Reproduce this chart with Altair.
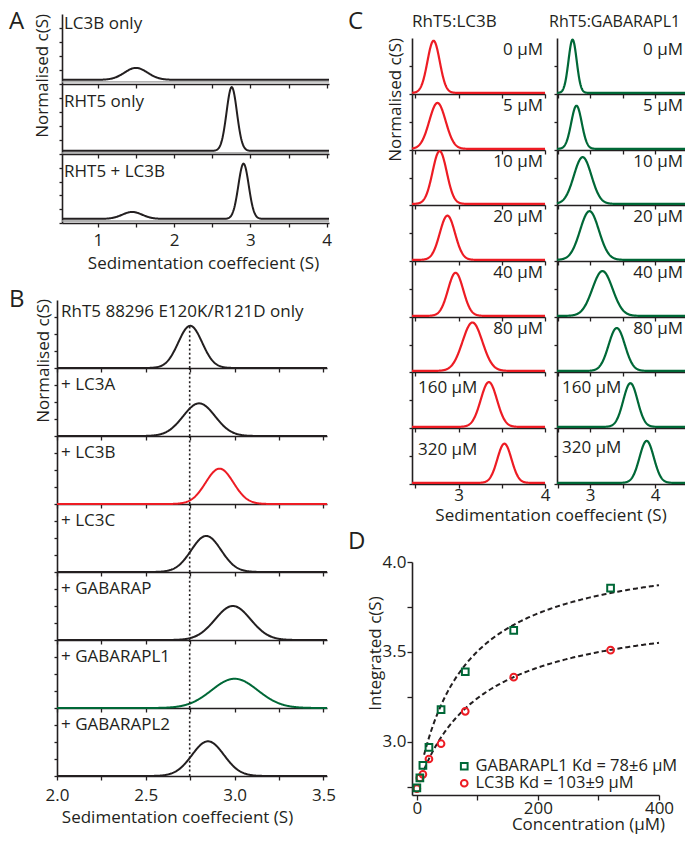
import altair as alt
import numpy as np
import pandas as pd

FONT = "Open Sans"
INK = "#231f20"
RED = "#ed1c24"
GREEN = "#006837"
FS = 17

# ---------------- Panel A ----------------
a_names = ["LC3B only", "RHT5 only", "RHT5 + LC3B"]
a_centre = [[1.50], [2.755], [1.45, 2.91]]
a_height = [[0.17], [0.91], [0.10, 0.80]]
a_sigma = [[0.15], [0.068], [0.13, 0.068]]
a_base = [0.06, 0.045, 0.06]
a_xdomain = [0.53, 4.03]
a_xticks = [1, 1.5, 2, 2.5, 3, 3.5, 4]

# ---------------- Panel B ----------------
b_names = ["RhT5 88296 E120K/R121D only", "+ LC3A", "+ LC3B", "+ LC3C",
           "+ GABARAP", "+ GABARAPL1", "+ GABARAPL2"]
b_colour = [INK, INK, RED, INK, INK, GREEN, INK]
b_centre = [2.75, 2.80, 2.915, 2.84, 2.99, 3.00, 2.85]
b_height = [0.62, 0.48, 0.52, 0.53, 0.50, 0.43, 0.51]
b_sigma = [0.067, 0.09, 0.078, 0.084, 0.10, 0.13, 0.09]
b_free_peak = 2.747
b_xdomain = [2.0, 3.52]
b_xticks = [2.0, 2.25, 2.5, 2.75, 3.0, 3.25, 3.5]

# ---------------- Panel C ----------------
c_labels = ["0 µM", "5 µM", "10 µM", "20 µM", "40 µM", "80 µM", "160 µM", "320 µM"]
c_lc3b_centre = [2.71, 2.755, 2.78, 2.87, 2.965, 3.16, 3.35, 3.53]
c_lc3b_height = [0.93, 0.82, 0.96, 0.79, 0.77, 0.88, 0.80, 0.70]
c_lc3b_sigma = [0.071, 0.095, 0.082, 0.088, 0.088, 0.115, 0.094, 0.082]
c_gab_centre = [2.73, 2.79, 2.885, 2.99, 3.19, 3.41, 3.62, 3.87]
c_gab_height = [0.95, 0.77, 0.85, 0.87, 0.80, 0.78, 0.78, 0.75]
c_gab_sigma = [0.063, 0.081, 0.135, 0.145, 0.155, 0.125, 0.11, 0.11]
c_left_xdomain = [2.46, 4.0]
c_right_xdomain = [2.49, 4.46]
c_left_xticks = [2.5, 3, 3.5, 4]
c_right_xticks = [2.5, 3, 3.5, 4]

# ---------------- Panel D ----------------
d_conc = [0, 5, 10, 20, 40, 80, 160, 320]
d_gab = [2.745, 2.80, 2.87, 2.97, 3.18, 3.39, 3.62, 3.855]
d_lc3b = [2.74, 2.80, 2.82, 2.905, 2.99, 3.17, 3.36, 3.51]
d_labels = ["GABARAPL1 Kd = 78±6 µM", "LC3B Kd = 103±9 µM"]
d_kd = [78, 103]
d_s0 = [2.75, 2.74]
d_amp = [1.34, 1.02]

XTITLE = "Sedimentation coeffecient (S)"
YTITLE = "Normalised c(S)"

# ---------------- canvas geometry (page pixels) ----------------
VW, VH = 677, 826
OX, OY = 8, 8


def vx(x):
    return x - OX


def vy(y):
    return y - OY


def peak_curve(xdomain, centres, heights, sigmas, base, n=500):
    s = np.linspace(xdomain[0], xdomain[1], n)
    c = np.full(n, float(base))
    for m, h, w in zip(centres, heights, sigmas):
        c = c + h * np.exp(-0.5 * ((s - m) / w) ** 2)
    return pd.DataFrame({"s": s, "c": c})


def text_layer(txt, x, y, size=FS, align="left", baseline="alphabetic", angle=0):
    kw = dict(align=align, baseline=baseline, font=FONT, fontSize=size, color=INK)
    if angle:
        kw["angle"] = angle
    return alt.Chart(pd.DataFrame({"t": [txt]})).mark_text(**kw).encode(
        text="t:N", x=alt.value(vx(x)), y=alt.value(vy(y)))


def xscale(dom, x0, x1):
    return alt.Scale(domain=dom, range=[vx(x0), vx(x1)], nice=False, zero=False)


def yscale(top, bottom, dom=(0, 1)):
    return alt.Scale(domain=list(dom), range=[vy(bottom), vy(top)], nice=False, zero=False)


def x_axis(bottom, ticks, **kw):
    d = dict(orient="bottom", offset=vy(bottom) - VH, values=ticks, tickSize=4,
             labels=False, title=None)
    d.update(kw)
    return alt.Axis(**d)


def y_axis(left, ticks, **kw):
    d = dict(orient="left", offset=-vx(left), values=ticks, tickSize=3,
             labels=False, title=None)
    d.update(kw)
    return alt.Axis(**d)


def curve_chart(df, colour, xs, ys, xa, ya, stroke=2.0):
    return alt.Chart(df).mark_line(color=colour, strokeWidth=stroke).encode(
        x=alt.X("s:Q", scale=xs, axis=xa), y=alt.Y("c:Q", scale=ys, axis=ya))


layers = []

# ================= A =================
A_X0, A_X1 = 62, 329
a_top = [14, 84, 154]
a_bot = [84, 154, 223]
a_label_y = [29, 107, 177]
for i in range(3):
    xs = xscale(a_xdomain, A_X0, A_X1)
    ys = yscale(a_top[i], a_bot[i])
    kw = {}
    if i == 2:
        kw = dict(labels=True, labelPadding=5,
                  labelExpr="datum.value % 1 == 0 ? format(datum.value, 'd') : ''",
                  title=XTITLE, titleX=vx(203), titleY=32, titleBaseline="top")
    xa = x_axis(a_bot[i], a_xticks, **kw)
    ya = y_axis(A_X0, [0, 0.2, 0.4, 0.6, 0.8])
    cur = peak_curve(a_xdomain, a_centre[i], a_height[i], a_sigma[i], a_base[i])
    layers.append(curve_chart(cur, INK, xs, ys, xa, ya))
    layers.append(alt.Chart(pd.DataFrame({"c": [a_base[i] - 0.03]})).mark_rule(
        color="#9a9a9a", strokeWidth=1.4).encode(
        x=alt.value(vx(A_X0)), x2=alt.value(vx(A_X1)), y=alt.Y("c:Q", scale=ys, axis=None)))
    layers.append(text_layer(a_names[i], A_X0 + 2, a_label_y[i]))
layers.append(text_layer("A", 9, 9.5, size=24, baseline="top"))
layers.append(text_layer(YTITLE, 51.6, 14, align="right", baseline="bottom", angle=270))

# ================= B =================
B_X0, B_X1 = 57, 327
for i in range(7):
    top, bot = 300 + 68 * i, 368 + 68 * i
    xs = xscale(b_xdomain, B_X0, B_X1)
    ys = yscale(top, bot)
    kw = {}
    if i == 6:
        kw = dict(labels=True, labelPadding=7,
                  labelExpr="(datum.value * 2) % 1 == 0 ? format(datum.value, '.1f') : ''",
                  title=XTITLE, titleX=vx(177), titleY=33, titleBaseline="top")
    xa = x_axis(bot, b_xticks, **kw)
    ya = y_axis(B_X0, [0, 0.25, 0.5, 0.75])
    cur = peak_curve(b_xdomain, [b_centre[i]], [b_height[i]], [b_sigma[i]], 0.0)
    layers.append(curve_chart(cur, b_colour[i], xs, ys, xa, ya))
    ytop = b_height[0] if i == 0 else 1.0
    layers.append(alt.Chart(pd.DataFrame({"s": [b_free_peak], "c": [0.0], "c2": [ytop]})).mark_rule(
        color=INK, strokeWidth=1.6, strokeDash=[2, 2.4]).encode(
        x=alt.X("s:Q", scale=xs, axis=None), y=alt.Y("c:Q", scale=ys, axis=None), y2="c2:Q"))
    layers.append(text_layer(b_names[i], B_X0 + 4, top + (17 if i == 0 else 22)))
layers.append(text_layer("B", 9, 288, size=24, baseline="top"))
layers.append(text_layer(YTITLE, 52.6, 299, align="right", baseline="bottom", angle=270))

# ================= C =================
c_top = [38, 94, 150, 205, 261, 317, 372, 428]
c_bot = [94, 150, 205, 261, 317, 372, 428, 484]
for left in (True, False):
    x0, x1 = (412, 545) if left else (557, 685)
    dom = c_left_xdomain if left else c_right_xdomain
    ticks = c_left_xticks if left else c_right_xticks
    for i in range(8):
        xs = xscale(dom, x0, x1)
        ys = yscale(c_top[i], c_bot[i])
        kw = {}
        if i == 7:
            kw = dict(labels=True, labelPadding=-1,
                      labelExpr="datum.value % 1 == 0 ? format(datum.value, 'd') : ''")
        xa = x_axis(c_bot[i], ticks, **kw)
        ya = y_axis(x0, [0, 0.5])
        if left:
            cur = peak_curve(dom, [c_lc3b_centre[i]], [c_lc3b_height[i]], [c_lc3b_sigma[i]], 0.02)
            layers.append(curve_chart(cur, RED, xs, ys, xa, ya, stroke=2.2))
        else:
            cur = peak_curve(dom, [c_gab_centre[i]], [c_gab_height[i]], [c_gab_sigma[i]], 0.02)
            layers.append(curve_chart(cur, GREEN, xs, ys, xa, ya, stroke=2.2))
        if i < 6:
            layers.append(text_layer(c_labels[i], x1 - 2, c_top[i] + 17, align="right"))
        else:
            ly = 21 if i == 6 else (27 if left else 25)
            layers.append(text_layer(c_labels[i], x0 + (6 if left else 5), c_top[i] + ly))
layers.append(text_layer("RhT5:LC3B", 412, 27))
layers.append(text_layer("RhT5:GABARAPL1", 549, 27, size=16))
layers.append(text_layer("C", 348, 9.5, size=24, baseline="top"))
layers.append(text_layer(YTITLE, 404.6, 38, align="right", baseline="bottom", angle=270))
layers.append(text_layer(XTITLE, 551, 508, align="center", baseline="top"))

# ================= D =================
pts = pd.DataFrame({
    "conc": d_conc + d_conc,
    "s": d_lc3b + d_gab,
    "series": [d_labels[1]] * len(d_conc) + [d_labels[0]] * len(d_conc),
})
fit_rows = []
grid = np.linspace(12, 400, 200)
for lab, kd, s0, amp in zip(d_labels, d_kd, d_s0, d_amp):
    for g in grid:
        fit_rows.append({"conc": g, "s": s0 + amp * g / (kd + g), "series": lab})
fits = pd.DataFrame(fit_rows)

D_X0, D_X1, D_Y0, D_Y1 = 412, 659, 562, 795
dxs = xscale([-8, 400], D_X0, D_X1)
dys = yscale(D_Y0, D_Y1, dom=(2.705, 4.0))
dxa = x_axis(D_Y1, [0, 100, 200, 300, 400], tickSize=5, labels=True, labelPadding=0,
             labelExpr="datum.value % 200 == 0 ? format(datum.value, 'd') : ''",
             title="Concentration (µM)", titleX=vx(588), titleY=21, titleBaseline="top")
dya = y_axis(D_X0, [2.75, 3.0, 3.25, 3.5, 3.75, 4.0], tickSize=5, labels=True, labelPadding=1,
             labelExpr="(datum.value * 2) % 1 == 0 ? format(datum.value, '.1f') : ''",
             title="Integrated c(S)", titleX=-27.4, titleY=vy(653))
layers.append(alt.Chart(fits).mark_line(color=INK, strokeDash=[5, 3], strokeWidth=2).encode(
    x=alt.X("conc:Q", scale=dxs, axis=dxa), y=alt.Y("s:Q", scale=dys, axis=dya),
    detail="series:N"))
leg = alt.Legend(orient="none", legendX=vx(456), legendY=vy(758), title=None, labelFont=FONT,
                 labelFontSize=16.5, labelColor=INK, symbolStrokeWidth=2, symbolSize=45,
                 rowPadding=0, padding=0, labelOffset=3, labelLimit=0)
layers.append(alt.Chart(pts).mark_point(filled=False, strokeWidth=2, size=45, opacity=1).encode(
    x=alt.X("conc:Q", scale=dxs, axis=None), y=alt.Y("s:Q", scale=dys, axis=None),
    color=alt.Color("series:N", scale=alt.Scale(domain=d_labels, range=[GREEN, RED]), legend=leg),
    shape=alt.Shape("series:N", scale=alt.Scale(domain=d_labels, range=["square", "circle"]),
                    legend=leg),
))
layers.append(text_layer("D", 348, 530, size=24, baseline="top"))

chart = alt.layer(*layers).resolve_scale(x="independent", y="independent").resolve_axis(
    x="independent", y="independent").properties(
    width=VW, height=VH, padding=0, autosize=alt.AutoSizeParams(type="none"))
chart = chart.configure_axis(
    domainColor=INK, domainWidth=1.6, tickColor=INK, tickWidth=1.3,
    labelFont=FONT, labelFontSize=FS, labelColor=INK,
    titleFont=FONT, titleFontSize=FS, titleFontWeight="normal", titleColor=INK,
    grid=False, labelFlush=False, labelOverlap=False,
).configure_view(stroke=None)

chart.save("out.html", embed_options={"renderer": "svg", "actions": False})
